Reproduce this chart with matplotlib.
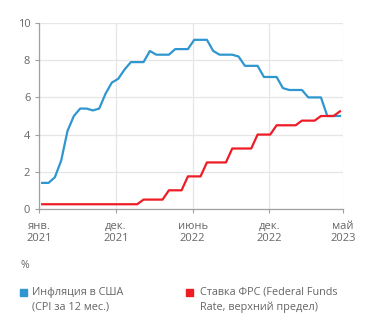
import matplotlib.pyplot as plt
from matplotlib.patches import Rectangle
import numpy as np

# CPI y/y, % (США)
cpi = [1.4, 1.4, 1.7, 2.6, 4.2, 5.0, 5.4, 5.4, 5.3, 5.4, 6.2, 6.8,
       7.0, 7.5, 7.9, 7.9, 7.9, 8.5, 8.3, 8.3, 8.3, 8.6, 8.6, 8.6,
       9.1, 9.1, 9.1, 8.5, 8.3, 8.3, 8.3, 8.2, 7.7, 7.7, 7.7, 7.1,
       7.1, 7.1, 6.5, 6.4, 6.4, 6.4, 6.0, 6.0, 6.0, 5.0, 5.0, 5.0]
# ставка ФРС, верхняя граница
fed = [0.25] * 16 + [0.5] * 4 + [1.0] * 3 + [1.75] * 3 + [2.5] * 4 + \
      [3.25] * 4 + [4.0] * 3 + [4.5] * 4 + [4.75] * 3 + [5.0] * 3 + [5.25]
tick_labels = ['янв.\n2021', 'дек.\n2021', 'июнь\n2022', 'дек.\n2022', 'май\n2023']
y_ticks = [0, 2, 4, 6, 8, 10]

blue = '#2f96cf'
red = '#ee1c25'
gray = '#666666'

plt.rcParams['font.family'] = ['Open Sans', 'DejaVu Sans']

fig = plt.figure(figsize=(3.71, 3.30), dpi=100)
ax = fig.add_axes([0.106, 0.367, 0.818, 0.563])

x = np.arange(len(cpi))
ax.plot(x, cpi, color=blue, lw=1.6, zorder=3)
ax.plot(x, fed, color=red, lw=1.6, zorder=3)

ax.set_xlim(-0.45, 47.45)
ax.set_ylim(0, 10)
ax.set_xticks([-0.45, 11.65, 23.75, 35.85, 47.45])
ax.set_xticklabels(tick_labels, linespacing=1.1)
ax.set_yticks(y_ticks)
ax.grid(True, color='#e6e6e6', lw=0.9)
ax.set_axisbelow(True)
for s in ['top', 'right']:
    ax.spines[s].set_visible(False)
for s in ['left', 'bottom']:
    ax.spines[s].set_color('#a0a0a0')
    ax.spines[s].set_linewidth(0.9)
ax.tick_params(colors='#a0a0a0', labelcolor=gray, labelsize=8, length=3, width=0.8)
ax.tick_params(axis='x', pad=6)

fig.text(0.054, 0.195, '%', color=gray, fontsize=7.5, va='center')

# легенда
sq = 7
fig.add_artist(Rectangle((20 / 371, 1 - 296 / 330), sq / 371, sq / 330,
                         transform=fig.transFigure, color=blue))
fig.add_artist(Rectangle((186 / 371, 1 - 296 / 330), sq / 371, sq / 330,
                         transform=fig.transFigure, color=red))
fig.text(32 / 371, 1 - 287 / 330, 'Инфляция в США\n(CPI за 12 мес.)',
         color=gray, fontsize=7.8, va='top', linespacing=1.45)
fig.text(200 / 371, 1 - 287 / 330, 'Ставка ФРС (Federal Funds\nRate, верхний предел)',
         color=gray, fontsize=7.8, va='top', linespacing=1.45)

fig.savefig('out.png', dpi=100)
